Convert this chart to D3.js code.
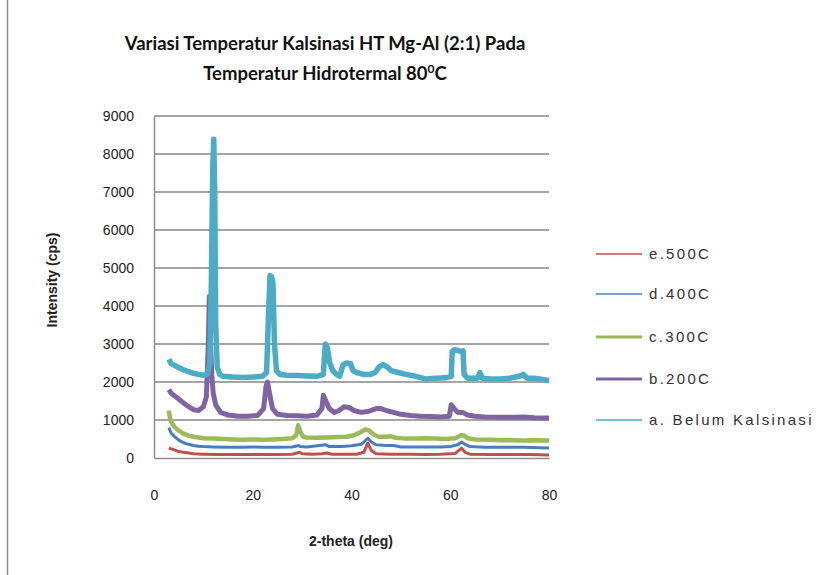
<!DOCTYPE html>
<html>
<head>
<meta charset="utf-8">
<script src="https://cdn.jsdelivr.net/npm/d3@7"></script>
<style>
  body { margin: 0; background: #fff; }
  svg { display: block; }
</style>
</head>
<body>
<div id="chart"></div>
<script>
// XRD data: [2-theta (deg), intensity (cps)]
var serA = [[3,2600],[3.5,2480],[4,2450],[5,2380],[6,2320],[7,2270],[8,2230],[9,2200],[10,2180],[10.8,2200],[11.3,2500],[11.6,4500],[11.9,7600],[12.1,8390],[12.3,7000],[12.5,3500],[12.8,2400],[13.3,2200],[14,2150],[16,2130],[18,2120],[20,2130],[22,2150],[22.8,2250],[23.2,3800],[23.5,4800],[23.8,4780],[24.1,4600],[24.4,3000],[24.8,2300],[25.5,2200],[27,2180],[29,2170],[31,2160],[33,2150],[34.3,2200],[34.7,3000],[35.1,2900],[35.6,2500],[36.2,2300],[37,2200],[37.6,2150],[38.3,2450],[39,2500],[39.8,2480],[40.3,2300],[41,2250],[42.5,2200],[43.8,2200],[44.8,2250],[45.6,2400],[46.4,2460],[47.2,2400],[48,2300],[49.5,2250],[51,2200],[53,2150],[55,2080],[57,2100],[59,2110],[60.2,2150],[60.4,2800],[60.8,2850],[61.5,2830],[62.2,2800],[62.6,2820],[62.8,2200],[63.5,2100],[65.5,2100],[66,2250],[66.5,2100],[68,2080],[70,2080],[72,2100],[74,2150],[74.8,2200],[75.6,2100],[77,2100],[79,2060],[80,2040]];
var serB = [[3,1800],[3.5,1700],[4,1650],[5,1550],[6,1450],[7,1350],[8,1270],[9,1250],[10,1350],[10.6,1600],[11,3000],[11.2,4250],[11.4,3200],[11.7,2200],[12,1700],[12.5,1400],[13.5,1200],[15,1130],[17,1100],[19,1100],[21,1120],[22.2,1300],[22.7,1900],[23,2000],[23.4,1700],[24,1300],[25,1150],[27,1120],[29,1110],[31,1100],[33,1130],[34,1300],[34.3,1650],[34.8,1500],[35.5,1300],[36.5,1200],[37.5,1250],[38.5,1350],[39.5,1330],[40.5,1250],[42,1200],[43.5,1230],[45,1300],[46,1300],[47,1250],[48.5,1200],[50,1150],[52,1120],[54,1100],[56,1090],[58,1080],[59.8,1100],[60.2,1400],[60.8,1300],[61.5,1200],[62.5,1200],[63.5,1130],[65,1100],[67,1080],[70,1070],[73,1070],[75,1080],[77,1060],[80,1050]];
var serC = [[3,1250],[3.3,1000],[3.7,900],[4.3,800],[5,720],[6,640],[7,590],[8,560],[9,540],[10,520],[12,510],[14,500],[16,490],[18,480],[20,490],[22,480],[24,490],[26,500],[28,520],[28.8,600],[29.2,860],[29.6,700],[30.2,560],[31,540],[33,530],[35,540],[37,550],[39,560],[40.5,600],[41.8,680],[42.8,750],[43.6,720],[44.5,620],[45.5,560],[47,560],[48,570],[49,530],[51,510],[53,510],[55,520],[57,510],[59,500],[61,520],[62.2,600],[62.8,590],[63.5,520],[65,490],[68,480],[70,470],[72,470],[75,460],[77,470],[80,460]];
var serD = [[3,800],[3.5,650],[4,580],[5,470],[6,400],[7,360],[8,330],[9,310],[10,300],[12,290],[15,280],[18,280],[20,290],[22,280],[25,280],[28,290],[29.3,330],[29.6,300],[31,290],[33,320],[34.8,350],[35.5,300],[38,300],[40,320],[42,360],[43.3,520],[44,420],[45,350],[47,330],[48.5,330],[50,290],[52,290],[55,290],[58,290],[60,300],[61.5,350],[62.3,420],[63,360],[64,300],[67,280],[70,280],[75,280],[78,270],[80,260]];
var serE = [[3,260],[3.5,240],[4,220],[5,170],[6,150],[7,130],[8,110],[10,100],[13,90],[16,90],[20,90],[25,90],[28,100],[29.5,150],[30,110],[32,100],[34,110],[35,130],[36,100],[38,100],[41,100],[42.5,150],[43.3,390],[44,200],[45,110],[48,100],[52,100],[55,90],[58,100],[61,120],[62.3,260],[63,150],[64,100],[68,90],[72,90],[76,90],[80,80]];

var legendNames = ['e.500C', 'd.400C', 'c.300C', 'b.200C', 'a. Belum Kalsinasi'];
var xTicks = [0, 20, 40, 60, 80];
var yTicks = [0, 1000, 2000, 3000, 4000, 5000, 6000, 7000, 8000, 9000];

var W = 835, H = 575;
var svg = d3.select('#chart').append('svg')
    .attr('width', W)
    .attr('height', H);

// chart area border (only the left edge is in frame)
svg.append('line')
    .attr('x1', 7.5).attr('x2', 7.5)
    .attr('y1', 0).attr('y2', H)
    .attr('stroke', '#8c8c8c')
    .attr('stroke-width', 1.5);

var x = d3.scaleLinear().domain([0, 80]).range([154, 549]);
var y = d3.scaleLinear().domain([0, 9000]).range([458, 116]);

// gridlines
svg.append('g')
  .selectAll('line')
  .data(yTicks.slice(1))
  .enter()
  .append('line')
    .attr('x1', x(0)).attr('x2', x(80))
    .attr('y1', function(d){ return y(d); })
    .attr('y2', function(d){ return y(d); })
    .attr('stroke', '#878787')
    .attr('stroke-width', 1.5);

// axes
var yAxis = d3.axisLeft(y).tickValues(yTicks).tickFormat(d3.format('d')).tickSize(0).tickPadding(20);
var xAxis = d3.axisBottom(x).tickValues(xTicks).tickFormat(d3.format('d')).tickSize(0).tickPadding(32);

var gy = svg.append('g').attr('transform', 'translate(' + x(0) + ',0)').call(yAxis);
var gx = svg.append('g').attr('transform', 'translate(0,' + y(0) + ')').call(xAxis);

[gx, gy].forEach(function(g){
    g.select('.domain').attr('stroke', '#8c8c8c').attr('stroke-width', 1.5);
    g.selectAll('text')
        .attr('font-family', 'Liberation Sans, Arial, sans-serif')
        .attr('font-size', 14)
        .attr('fill', '#222');
});

// series, drawn bottom to top
var series = [
    {data: serE, color: '#c0504d', w: 3},
    {data: serD, color: '#4a7ebb', w: 3},
    {data: serC, color: '#9bbb59', w: 4.5},
    {data: serB, color: '#8064a2', w: 5},
    {data: serA, color: '#4bacc6', w: 5.5}
];

var line = d3.line()
    .x(function(d){ return x(d[0]); })
    .y(function(d){ return y(d[1]); });

svg.append('g')
  .selectAll('path')
  .data(series)
  .enter()
  .append('path')
    .attr('d', function(d){ return line(d.data); })
    .attr('fill', 'none')
    .attr('stroke', function(d){ return d.color; })
    .attr('stroke-width', function(d){ return d.w; })
    .attr('stroke-linejoin', 'round');

// legend
var legendY = [254, 294, 337, 379, 420];
var legendW = [1.5, 1.5, 3, 3, 1.5];
var lg = svg.append('g');
series.forEach(function(s, i){
    lg.append('line')
        .attr('x1', 596).attr('x2', 642)
        .attr('y1', legendY[i]).attr('y2', legendY[i])
        .attr('stroke', s.color)
        .attr('stroke-width', legendW[i]);
    lg.append('text')
        .attr('x', 649)
        .attr('y', legendY[i] + 5)
        .attr('font-family', 'Liberation Sans, Arial, sans-serif')
        .attr('font-size', 15)
        .attr('letter-spacing', 2.3)
        .attr('fill', '#333')
        .text(legendNames[i]);
});

// title
var title = svg.append('text')
    .attr('text-anchor', 'middle')
    .attr('font-family', 'Lato, sans-serif')
    .attr('font-weight', 'bold')
    .attr('font-size', 18.5)
    .attr('fill', '#111');
title.append('tspan').attr('x', 325).attr('y', 50)
    .text('Variasi Temperatur Kalsinasi HT Mg-Al (2:1) Pada');
var t2 = title.append('tspan').attr('x', 325).attr('y', 80)
    .text('Temperatur Hidrotermal 80');
t2.append('tspan').attr('font-size', 12).attr('dy', -7).text('0');
t2.append('tspan').attr('dy', 7).text('C');

// axis titles
svg.append('text')
    .attr('x', 351).attr('y', 546)
    .attr('text-anchor', 'middle')
    .attr('font-family', 'Liberation Sans, Arial, sans-serif')
    .attr('font-weight', 'bold')
    .attr('font-size', 14)
    .attr('fill', '#222')
    .text('2-theta (deg)');

svg.append('text')
    .attr('transform', 'translate(57,280) rotate(-90)')
    .attr('text-anchor', 'middle')
    .attr('font-family', 'Liberation Sans, Arial, sans-serif')
    .attr('font-weight', 'bold')
    .attr('font-size', 14)
    .attr('fill', '#222')
    .text('Intensity (cps)');
</script>
</body>
</html>
